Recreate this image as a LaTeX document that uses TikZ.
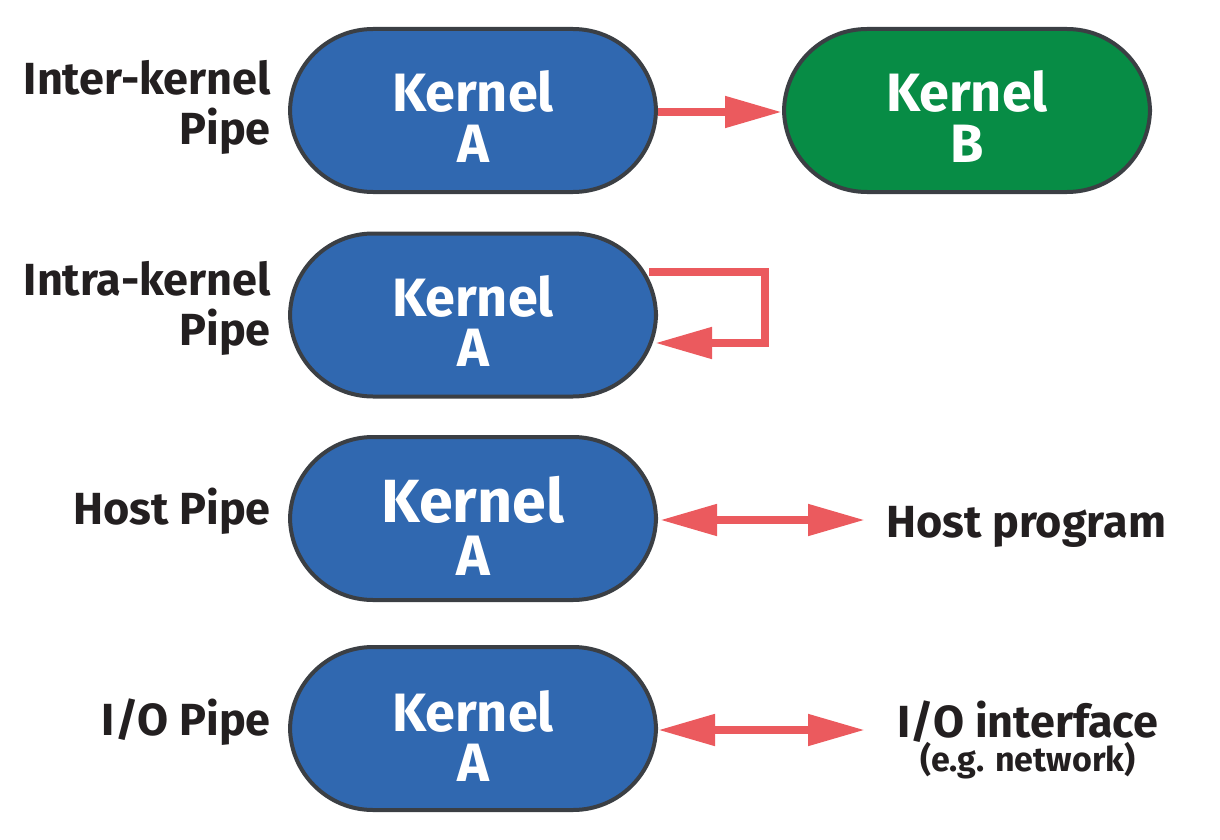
\documentclass[tikz,border=0pt]{standalone}
\usepackage{fontspec}
\setmainfont{Fira Sans}
\usetikzlibrary{arrows.meta,calc}
\definecolor{kblue}{HTML}{3068B0}
\definecolor{kgreen}{HTML}{078C45}
\definecolor{kedge}{HTML}{3B3F44}
\definecolor{pipered}{HTML}{EB5A5E}
\definecolor{txt}{HTML}{231F20}
\tikzset{
  kernel/.style={draw=kedge, line width=4pt, fill=kblue, rounded corners=83pt,
    minimum width=366pt, minimum height=163pt, inner sep=0pt},
  ktext/.style={text=white, font=\bfseries\fontsize{54}{54}\selectfont, anchor=base, inner sep=0pt},
  ktextbig/.style={ktext, font=\bfseries\fontsize{61}{61}\selectfont},
  lab/.style={text=txt, font=\bfseries\fontsize{45}{45}\selectfont, inner sep=0pt},
  pipe/.style={draw=pipered, line width=8pt},
  tip/.style={-{Triangle[length=57pt,width=30pt]}},
  dtip/.style={{Triangle[length=57pt,width=30pt]}-{Triangle[length=57pt,width=30pt]}},
}
\begin{document}
\begin{tikzpicture}[x=1pt,y=-1pt]
\useasboundingbox (0,0) rectangle (1220,840);
% kernels
\node[kernel] (kA1) at (473,110.5) {};
\node[kernel, fill=kgreen] (kB) at (967,110.5) {};
\node[kernel] (kA2) at (473,315) {};
\node[kernel] (kA3) at (473,518.5) {};
\node[kernel] (kA4) at (473,728.5) {};
% kernel texts
\node[ktext] (t1a) at (473,112) {Kernel};
\node[ktext] (t1b) at (473,162) {A};
\node[ktext] (tBa) at (967,112) {Kernel};
\node[ktext] (tBb) at (967,162) {B};
\node[ktext] (t2a) at (473,316) {Kernel};
\node[ktext] (t2b) at (473,366) {A};
\node[ktextbig] (t3a) at (473,522) {Kernel};
\node[ktext, font=\bfseries\fontsize{57}{57}\selectfont] (t3b) at (473,575) {A};
\node[ktext] (t4a) at (473,731) {Kernel};
\node[ktext] (t4b) at (473,781) {A};
% left labels
\node[lab, anchor=base east] (l1a) at (271,95) {Inter-kernel};
\node[lab, anchor=base east] (l1b) at (271,145) {Pipe};
\node[lab, anchor=base east] (l2a) at (271,295) {Intra-kernel};
\node[lab, anchor=base east] (l2b) at (271,345) {Pipe};
\node[lab, anchor=base east] (l3) at (271,524) {Host Pipe};
\node[lab, anchor=base east] (l4) at (271,735) {I/O Pipe};
% right labels
\node[lab, anchor=base west] (hp) at (886,537) {Host program};
\node[lab, anchor=base] (io) at (1028,737) {I/O interface};
\node[lab, anchor=base, font=\bfseries\fontsize{34}{34}\selectfont] (ion) at (1028,771) {(e.g. network)};
% connectors
\draw[pipe, tip] (kA1.east |- 0,112) -- (kB.west |- 0,112);
\coordinate (loopS) at ($(kA2.center)+(176,-43)$);
\coordinate (loopE) at ($(kA2.center)+(182,28)$);
\coordinate (loopR) at ($(kA2.center)+(292,0)$);
\draw[pipe, tip] (loopS) -- (loopS -| loopR) -- (loopE -| loopR) -- (loopE);
\coordinate (hpW) at ($(hp.west)+(-21,0)$);
\draw[pipe, dtip] ($(kA3.east)+(2,1.5)$) -- (hpW |- 0,520);
\coordinate (ioW) at (865,730);
\draw[pipe, dtip] (kA4.east |- 0,730) -- (ioW);
\end{tikzpicture}
\end{document}
